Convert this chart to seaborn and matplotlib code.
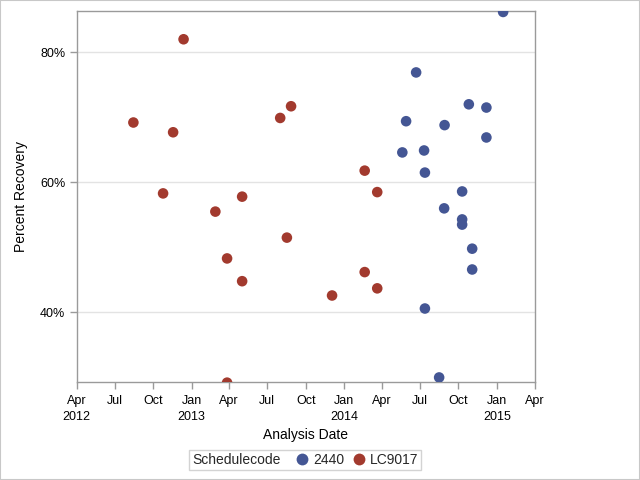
import numpy as np
import pandas as pd
import matplotlib
matplotlib.use("Agg")
import matplotlib.pyplot as plt
import matplotlib.dates as mdates
from matplotlib.patches import Rectangle
from matplotlib.lines import Line2D
import seaborn as sns

# ---- data ----
red_dates = ["2012-08-15", "2012-10-25", "2012-11-18", "2012-12-13", "2013-02-27",
             "2013-03-27", "2013-03-27", "2013-05-02", "2013-05-02", "2013-08-01",
             "2013-08-17", "2013-08-27", "2013-12-03", "2014-02-19", "2014-02-19",
             "2014-03-21", "2014-03-21"]
red_vals = [69.2, 58.3, 67.7, 82.0, 55.5, 48.3, 29.2, 57.8, 44.8, 69.9,
            51.5, 71.7, 42.6, 61.8, 46.2, 58.5, 43.7]

blue_dates = ["2015-01-16", "2014-06-22", "2014-10-26", "2014-12-07", "2014-05-29",
              "2014-08-29", "2014-12-07", "2014-05-20", "2014-07-11", "2014-07-13",
              "2014-10-10", "2014-08-28", "2014-10-10", "2014-10-10", "2014-11-03",
              "2014-11-03", "2014-07-13", "2014-08-16"]
blue_vals = [86.2, 76.9, 72.0, 71.5, 69.4, 68.8, 66.9, 64.6, 64.9, 61.5,
             58.6, 56.0, 54.3, 53.5, 49.8, 46.6, 40.6, 30.0]

codes = ["2440", "LC9017"]
colors = ["#445694", "#A23A2E"]

df = pd.DataFrame({
    "Analysis Date": pd.to_datetime(blue_dates + red_dates),
    "Percent Recovery": blue_vals + red_vals,
    "Schedulecode": [codes[0]] * len(blue_vals) + [codes[1]] * len(red_vals),
})

# ---- plot ----
sns.set_theme(style="white")
plt.rcParams["font.family"] = ["Liberation Sans", "DejaVu Sans"]

fig = plt.figure(figsize=(6.4, 4.8), dpi=100)
ax = fig.add_axes([76.5 / 640, 1 - 382 / 480, (534.5 - 76.5) / 640, (382 - 11.3) / 480])

sns.scatterplot(data=df, x="Analysis Date", y="Percent Recovery", hue="Schedulecode",
                hue_order=codes, palette=colors, s=58, edgecolor="none", ax=ax,
                legend=False, zorder=3)

ax.set_xlim(pd.Timestamp("2012-04-01"), pd.Timestamp("2015-04-01"))
ax.set_ylim(29.3, 86.3)

ax.xaxis.set_major_locator(mdates.MonthLocator(bymonth=[1, 4, 7, 10]))
def fmt(x, pos=None):
    d = mdates.num2date(x)
    lab = d.strftime("%b")
    if d.month == 1 or (d.year == 2012 and d.month == 4):
        lab += "\n" + str(d.year)
    return lab
ax.xaxis.set_major_formatter(plt.FuncFormatter(fmt))

ax.set_yticks([40, 60, 80])
ax.set_yticklabels(["40%", "60%", "80%"])

ax.grid(axis="y", color="#e3e3e3", lw=1, zorder=0)
ax.grid(axis="x", visible=False)
for sp in ax.spines.values():
    sp.set_color("#9a9a9a")
    sp.set_linewidth(1)
    sp.set_visible(True)

ax.tick_params(axis="both", which="major", direction="out", length=5, width=1,
               color="#9a9a9a", labelsize=9, labelcolor="black", pad=3,
               bottom=True, left=True)
ax.tick_params(axis="x", pad=4.5)
for t in ax.get_xticklabels():
    t.set_linespacing(1.4)
ax.set_xlabel("Analysis Date", fontsize=10, labelpad=4, color="black")
ax.set_ylabel("Percent Recovery", fontsize=10, labelpad=9, color="black")

# legend
handles = [Line2D([], [], linestyle="none", marker="o", markersize=8.5,
                  markerfacecolor=c, markeredgecolor="none") for c in colors]
leg = fig.legend(handles, codes, loc="center", bbox_to_anchor=(305 / 640, 1 - 460 / 480),
                 ncol=2, frameon=True, fontsize=10, title="Schedulecode",
                 title_fontsize=10, handlelength=0.8, handletextpad=0.35,
                 columnspacing=0.7, borderpad=0.22, fancybox=False)
leg.get_frame().set_edgecolor("#c8c8c8")
leg.get_frame().set_linewidth(1)
try:
    from matplotlib.offsetbox import HPacker
    fs = leg._fontsize
    newbox = HPacker(pad=leg.borderpad * fs, sep=1.2 * fs, align="center",
                     children=[leg._legend_title_box, leg._legend_handle_box])
    newbox.set_figure(fig)
    leg._legend_box = newbox
    leg._set_loc(leg._loc)
except Exception:
    pass

fig.patches.append(Rectangle((0, 0), 1, 1, transform=fig.transFigure, fill=False,
                             edgecolor="#c8c8c8", lw=1.5))

fig.savefig("out.png", dpi=100)
